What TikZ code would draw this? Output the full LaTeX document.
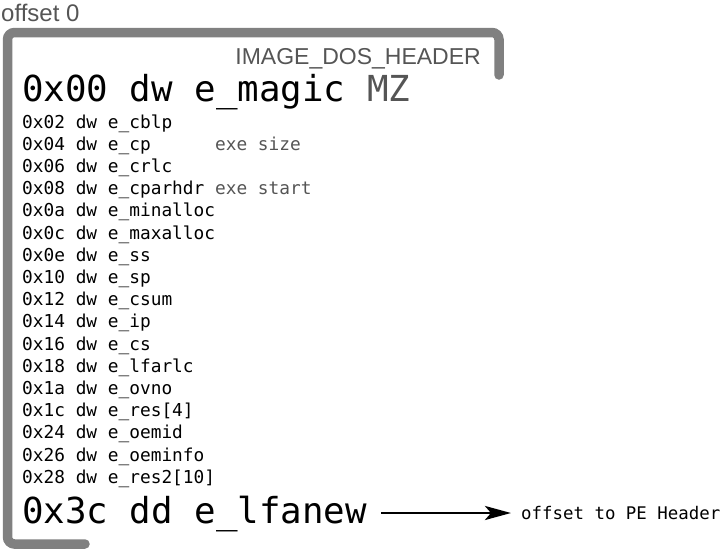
\documentclass[tikz,border=0pt]{standalone}
\usepackage{fontspec}
\setmainfont{Liberation Sans}
\newfontfamily\monofont{DejaVu Sans Mono}
\usetikzlibrary{arrows.meta}
\definecolor{bracketgray}{HTML}{808080}
\definecolor{labelgray}{HTML}{555555}
\begin{document}
\begin{tikzpicture}[x=1pt,y=-1pt,
  field/.style={anchor=base west,inner sep=0pt,font=\monofont\fontsize{17.8}{20}\selectfont},
  bigfield/.style={anchor=base west,inner sep=0pt,font=\monofont\fontsize{35.8}{40}\selectfont},
  note/.style={text=labelgray}]
\useasboundingbox (0,0) rectangle (725,552);
% structure bracket
\draw[bracketgray,line width=9.5pt,line cap=round,rounded corners=7pt]
  (85,544) -- (7.5,544) -- (7.5,32.5) -- (499,32.5) -- (499,75);
\node[anchor=base west,inner sep=0pt,text=labelgray,font=\fontsize{24}{28}\selectfont] (off0) at (1,21) {offset 0};
\node[anchor=base east,inner sep=0pt,text=labelgray,font=\fontsize{23}{26}\selectfont] (hdr) at (481,64) {IMAGE\_DOS\_HEADER};
\node[bigfield] (magic) at (22,101) {0x00 dw e\_magic \textcolor{labelgray}{MZ}};
\foreach \t [count=\i from 0] in {%
  0x02 dw e\_cblp,
  0x04 dw e\_cp\ \ \ \ \ \ \textcolor{labelgray}{exe size},
  0x06 dw e\_crlc,
  0x08 dw e\_cparhdr \textcolor{labelgray}{exe start},
  0x0a dw e\_minalloc,
  0x0c dw e\_maxalloc,
  0x0e dw e\_ss,
  0x10 dw e\_sp,
  0x12 dw e\_csum,
  0x14 dw e\_ip,
  0x16 dw e\_cs,
  0x18 dw e\_lfarlc,
  0x1a dw e\_ovno,
  0x1c dw e\_res[4],
  0x24 dw e\_oemid,
  0x26 dw e\_oeminfo,
  0x28 dw e\_res2[10]}
  \node[field] (f\i) at (22,{128+22.2*\i}) {\t};
\node[bigfield] (lfanew) at (22,523) {0x3c dd e\_lfanew};
\node[anchor=west,inner sep=0pt,font=\monofont\fontsize{17.4}{20}\selectfont] (pe) at (521,513) {offset to PE Header};
\draw[line width=2.8pt,-{Stealth[length=26pt,width=14pt,inset=6pt]},shorten <=14pt,shorten >=10pt]
  (lfanew.east |- pe.west) -- (pe.west);
\end{tikzpicture}
\end{document}
